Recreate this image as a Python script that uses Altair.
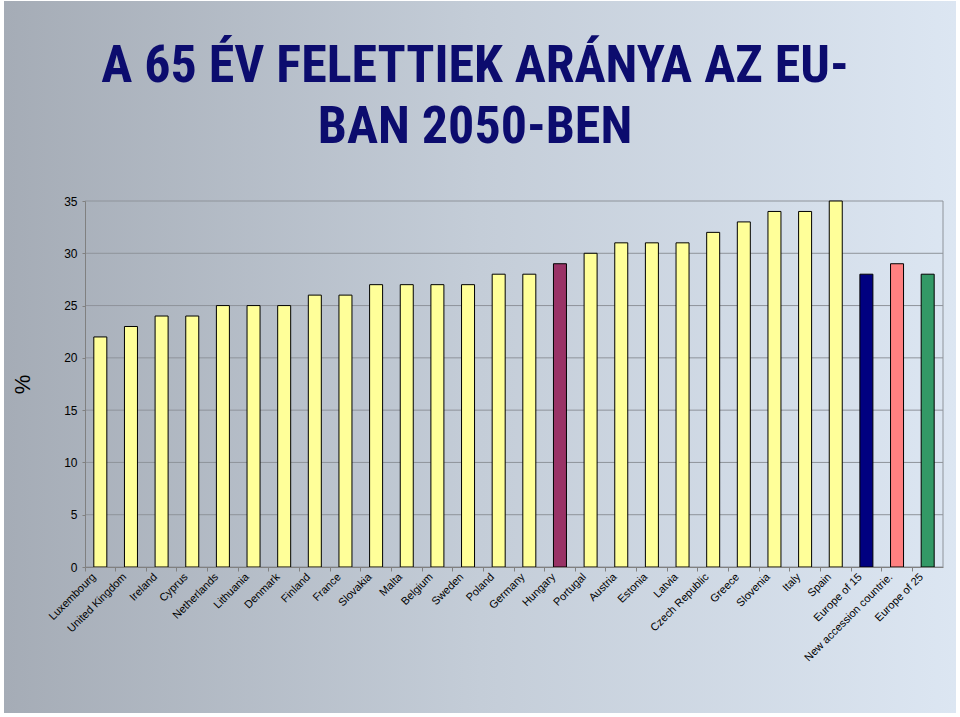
import altair as alt
import pandas as pd

countries = ["Luxembourg", "United Kingdom", "Ireland", "Cyprus", "Netherlands", "Lithuania",
             "Denmark", "Finland", "France", "Slovakia", "Malta", "Belgium", "Sweden", "Poland",
             "Germany", "Hungary", "Portugal", "Austria", "Estonia", "Latvia", "Czech Republic",
             "Greece", "Slovenia", "Italy", "Spain", "Europe of 15", "New accession countrie.",
             "Europe of 25"]
values = [22, 23, 24, 24, 25, 25, 25, 26, 26, 27, 27, 27, 27, 28, 28, 29, 30, 31, 31, 31, 32,
          33, 34, 34, 35, 28, 29, 28]
bar_colors = ["#FFFF99"] * 15 + ["#993366"] + ["#FFFF99"] * 9 + ["#000080", "#FF8080", "#339966"]
y_ticks = [0, 5, 10, 15, 20, 25, 30, 35]
title_lines = ["A 65 ÉV FELETTIEK ARÁNYA AZ EU-", "BAN 2050-BEN"]

df = pd.DataFrame({"country": countries, "value": values, "color": bar_colors})
grid_df = pd.DataFrame({"tick": y_ticks})

W, H = 858, 366
PL, PT = 85, 201

x_scale = alt.Scale(domain=countries, paddingInner=0, paddingOuter=0)
y_scale = alt.Scale(domain=[0, 35], nice=False)

y_axis = alt.Axis(values=y_ticks, grid=False, domainColor="#808080", tickColor="#808080",
                  tickSize=3, labelFont="Liberation Sans", labelFontSize=12,
                  labelColor="#000000", labelPadding=5, titleFont="Liberation Sans",
                  titleFontSize=22, titleFontWeight="normal", titleColor="#000000",
                  titleX=-63, titleY=H / 2, titleAngle=-90, titleBaseline="middle",
                  titleAlign="center", zindex=1)

one = pd.DataFrame({"a": [0]})

bg = alt.Chart(one).mark_rect(
    color=alt.LinearGradient(
        gradient="linear", x1=0, x2=1, y1=0, y2=0,
        stops=[alt.GradientStop(offset=0, color="#A5ACB6"),
               alt.GradientStop(offset=0.5, color="#C4CDD8"),
               alt.GradientStop(offset=1, color="#DCE6F2")]
    )
).encode(
    x=alt.value(-PL + 4), x2=alt.value(960 - PL - 4),
    y=alt.value(-PT + 1), y2=alt.value(717 - PT - 4)
)

title = alt.Chart(one).mark_text(
    text=title_lines,
    font="'Liberation Sans Narrow', 'Arial Narrow', 'Roboto Condensed', 'Noto Sans Condensed', 'DejaVu Sans Condensed', sans-serif",
    fontSize=52, fontWeight="bold",
    color="#0C0C6E", lineHeight=61, align="center", baseline="alphabetic"
).encode(x=alt.value(475 - PL), y=alt.value(82 - PT))

grid = alt.Chart(grid_df).mark_rule(color="#8E939A", strokeWidth=1).encode(
    y=alt.Y("tick:Q", scale=y_scale, title="%", axis=y_axis),
    x=alt.value(0), x2=alt.value(W)
)

right_edge = alt.Chart(one).mark_rule(color="#8E939A", strokeWidth=1).encode(
    x=alt.value(W), y=alt.value(0), y2=alt.value(H)
)

bars = alt.Chart(df).mark_bar(width=13, stroke="#000000", strokeWidth=1).encode(
    x=alt.X("country:N", scale=x_scale, sort=countries, title=None,
            axis=alt.Axis(bandPosition=0, labelAngle=-45, labelAlign="right",
                          labelBaseline="middle", labelOffset=-6, labelPadding=4,
                          labelFont="Liberation Sans", labelFontSize=11, labelColor="#000000",
                          tickColor="#808080", tickSize=4, domainColor="#808080",
                          labelOverlap=False, zindex=1)),
    y=alt.Y("value:Q", scale=y_scale, title="%", axis=y_axis),
    color=alt.Color("color:N", scale=None)
)

chart = alt.layer(bg, title, grid, right_edge, bars).properties(
    width=W, height=H,
    padding={"left": PL, "top": PT, "right": 960 - PL - W, "bottom": 717 - PT - H},
    autosize=alt.AutoSizeParams(type="none"),
).configure_view(stroke=None)

chart.save("out.html", embed_options={"renderer": "svg", "actions": False})
